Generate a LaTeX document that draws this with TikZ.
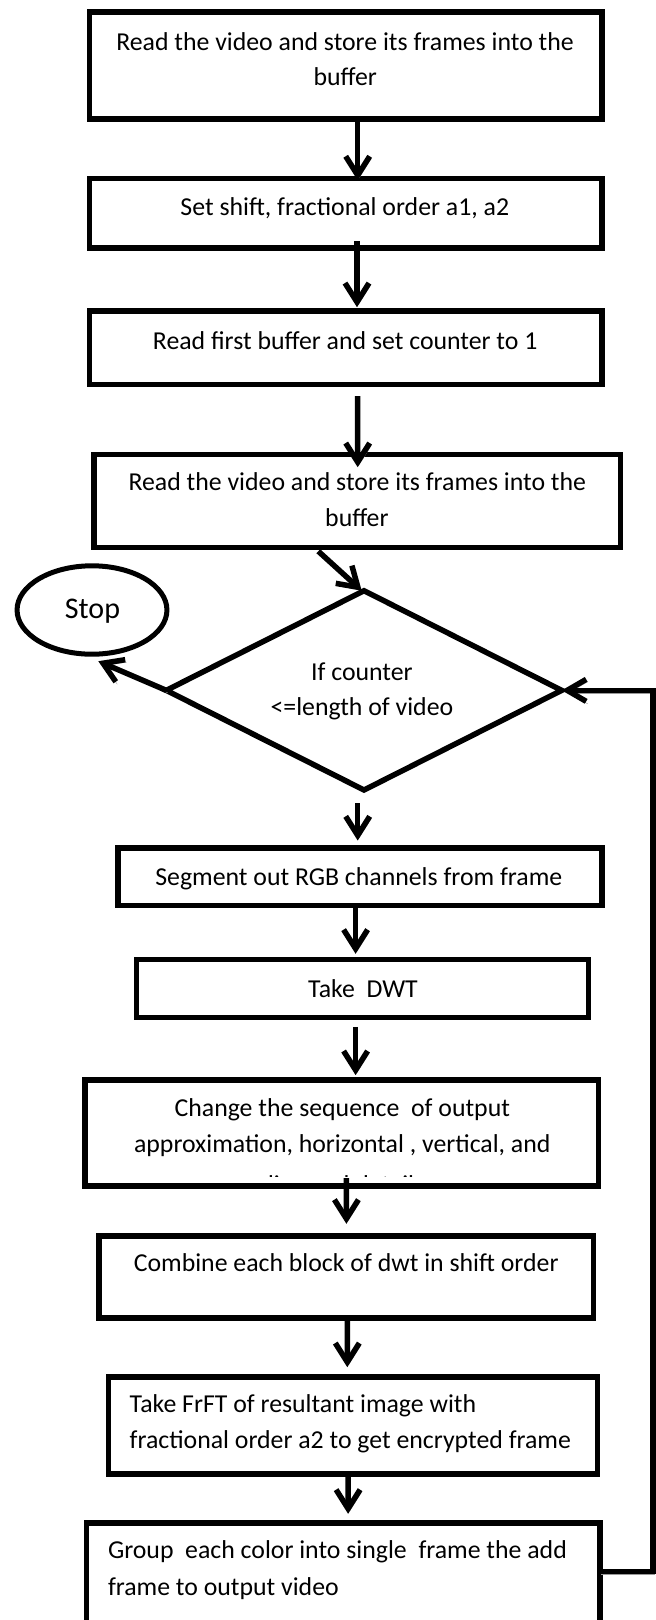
\documentclass[tikz,border=0pt]{standalone}
\usepackage{fontspec}
\setmainfont{Carlito}
\usetikzlibrary{arrows.meta,shapes.geometric}
\begin{document}
\begin{tikzpicture}[x=1pt,y=-1pt,
  box/.style={draw, line width=5.5pt, inner sep=0pt, outer sep=0pt},
  txt/.style={inner sep=0pt, outer sep=0pt, anchor=base, font=\fontsize{25.8}{36}\selectfont},
  ltxt/.style={txt, anchor=base west},
  shadowed/.style={preaction={draw=black!40, transform canvas={xshift=1.5pt,yshift=-2.5pt}}},
  arr/.style={line width=5.5pt, -{Straight Barb[length=19pt,width=24pt]}, shadowed},
  loopline/.style={line width=5.5pt, -{Straight Barb[length=19pt,width=22pt]}, shadowed}
]
\useasboundingbox (0,0) rectangle (656,1620);
\clip (0,0) rectangle (656,1620);
\fill[white] (0,0) rectangle (656,1620);

% boxes
\node[box, minimum width=512.5pt, minimum height=107.2pt] (b1) at (345.6,65.35) {};
\node[box, minimum width=512.5pt, minimum height=69.5pt] (b2) at (345.6,213.2) {};
\node[box, minimum width=512.5pt, minimum height=73.5pt] (b3) at (345.6,347.8) {};
\node[box, minimum width=526.7pt, minimum height=92.8pt] (b4) at (357.3,500.85) {};
\node[box, diamond, aspect=2, minimum width=395.4pt, minimum height=199.3pt] (dia) at (364,690.35) {};
\node[box, ellipse, line width=5pt, minimum width=149.9pt, minimum height=88.4pt] (stop) at (92,610) {};
\node[box, minimum width=484.1pt, minimum height=57.8pt] (b5) at (359.8,876.65) {};
\node[box, minimum width=451.8pt, minimum height=57.8pt] (b6) at (362.55,988.35) {};
\node[box, minimum width=513.3pt, minimum height=106pt] (b7) at (341.8,1133.1) {};
\node[box, minimum width=494.5pt, minimum height=81.9pt] (b8) at (346.2,1277) {};
\node[box, minimum width=489pt, minimum height=97.2pt] (b9) at (353.15,1425.35) {};
\node[box, minimum width=513.3pt, minimum height=154.5pt] (b10) at (343.1,1600) {};

% texts
\node[txt] (t1a) at (345,50) {Read the video and store its frames into the};
\node[txt] (t1b) at (345.2,85) {buffer};
\node[txt] (t2) at (344.8,215.7) {Set shift, fractional order a1, a2};
\node[txt] (t3) at (345.2,349.3) {Read first buffer and set counter to 1};
\node[txt] (t4a) at (357.3,490.7) {Read the video and store its frames into the};
\node[txt] (t4b) at (356.9,526.7) {buffer};
\node[txt] (tda) at (361.9,680.7) {If counter};
\node[txt] (tdb) at (361.9,715) {<=length of video};
\node[txt, font=\fontsize{30}{36}\selectfont] (tstop) at (92.5,618.3) {Stop};
\node[txt] (t5) at (358.8,885) {Segment out RGB channels from frame};
\node[txt] (t6) at (363,997.3) {Take~~DWT};
\node[txt] (t7a) at (342.3,1116.7) {Change the sequence~~of output};
\node[txt] (t7b) at (342.3,1152.7) {approximation, horizontal , vertical, and};
\begin{scope}
  \clip (100,1100) rectangle (590,1176);
  \node[txt] (t7c) at (342.3,1193) {diagonal details};
\end{scope}
\node[txt] (t8) at (346.2,1271.7) {Combine each block of dwt in shift order};
\node[ltxt] (t9a) at (129.7,1412.3) {Take FrFT of resultant image with};
\node[ltxt] (t9b) at (129.7,1448.3) {fractional order a2 to get encrypted frame};
\node[ltxt] (t10a) at (108,1558.3) {Group~~each color into single~~frame the add};
\node[ltxt] (t10b) at (108,1595) {frame to output video};

% connectors
\draw[arr] ([xshift=12.1pt]b1.south) -- ([xshift=12.1pt,yshift=-2pt]b2.north);
\draw[arr] ([xshift=11.4pt,yshift=6.5pt]b2.south) -- ([xshift=11.4pt,yshift=3.85pt]b3.north);
\draw[arr] ([xshift=12.1pt,yshift=-11.65pt]b3.south) -- ([xshift=0.4pt,yshift=-12.75pt]b4.north);
\draw[arr] ([xshift=-39pt,yshift=-4pt]b4.south) -- ([xshift=-2.3pt]dia.north);
\draw[arr] (dia.west) -- ([xshift=6.3pt,yshift=-7pt]stop.south);
\draw[arr] ([xshift=-6.3pt,yshift=-13.3pt]dia.south) -- ([xshift=-2.1pt,yshift=7.25pt]b5.north);
\draw[arr] ([xshift=-4.2pt]b5.south) -- ([xshift=-6.95pt,yshift=5.65pt]b6.north);
\draw[arr] ([xshift=-6.95pt,yshift=-9.55pt]b6.south) -- ([xshift=13.8pt,yshift=4.95pt]b7.north);
\draw[arr] ([xshift=4.6pt,yshift=7.95pt]b7.south) -- ([xshift=0.2pt,yshift=12.25pt]b8.north);
\draw[arr] ([xshift=1.1pt]b8.south) -- ([xshift=-5.85pt,yshift=9.55pt]b9.north);
\draw[arr] ([xshift=-5.05pt]b9.south) -- ([xshift=5pt,yshift=8.95pt]b10.north);
\coordinate (loopc) at (653,690.35);
\draw[loopline] ([yshift=28.3pt]b10.east) -| (loopc) -- (dia.east);
\end{tikzpicture}
\end{document}
